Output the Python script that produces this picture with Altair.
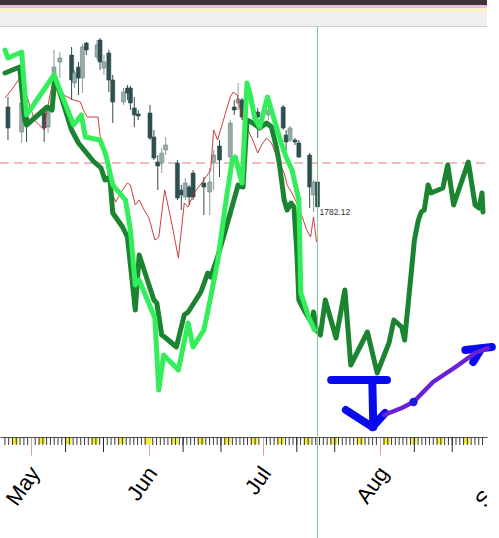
import altair as alt
import pandas as pd

# ---- x: days since 1 May, y: price ----
# candles
cd_day = [-6.2, -2.58, -1.29, 3.36, 4.39, 5.94, 7.49, 10.59, 11.37, 12.40, 13.44, 14.47, 17.31, 18.09, 19.12,
          20.41, 21.45, 24.29, 25.32, 26.10, 27.13, 28.17, 31.27, 32.30, 33.33, 34.37, 35.40, 38.50, 39.53, 40.57,
          41.60, 42.64, 45.48, 47.03, 48.06, 49.61, 52.45, 53.49, 54.52, 55.56, 59.69, 62.53, 66.41, 67.18, 68.22,
          69.51, 70.54, 73.39, 74.42, 75.45]
cd_open = [1882, 1857, 1872, 1876, 1862, 1914, 1927, 1934, 1906, 1922, 1911, 1946, 1932, 1949, 1921,
           1936, 1909, 1887, 1901, 1901, 1881, 1875, 1876, 1852, 1827, 1826, 1839, 1826, 1799, 1792,
           1802, 1816, 1806, 1797, 1827, 1843, 1832, 1882, 1886, 1889, 1877, 1874, 1882, 1854, 1849,
           1849, 1846, 1834, 1794, 1807]
cd_close = [1861, 1886, 1867, 1861, 1879, 1922, 1931, 1909, 1916, 1911, 1942, 1939, 1944, 1927, 1927,
            1909, 1887, 1897, 1896, 1886, 1874, 1873, 1851, 1831, 1823, 1836, 1844, 1791, 1794, 1806,
            1792, 1792, 1802, 1807, 1834, 1829, 1866, 1879, 1890, 1872, 1872, 1879, 1861, 1847, 1861,
            1847, 1832, 1802, 1807, 1782.12]
cd_high = [1892, 1894, 1877, 1882, 1884, 1939, 1937, 1942, 1919, 1927, 1945, 1947, 1949, 1951, 1934,
           1939, 1914, 1901, 1904, 1903, 1892, 1879, 1884, 1859, 1834, 1841, 1852, 1829, 1804, 1811,
           1804, 1819, 1812, 1821, 1839, 1849, 1869, 1889, 1906, 1891, 1881, 1883, 1884, 1859, 1863,
           1851, 1849, 1836, 1809, 1809]
cd_low = [1849, 1846, 1847, 1847, 1856, 1896, 1911, 1889, 1901, 1894, 1896, 1934, 1929, 1919, 1914,
          1897, 1866, 1884, 1889, 1879, 1862, 1869, 1849, 1829, 1799, 1816, 1834, 1789, 1779, 1789,
          1784, 1789, 1774, 1774, 1799, 1812, 1829, 1874, 1879, 1869, 1851, 1869, 1859, 1839, 1847,
          1844, 1831, 1781, 1777, 1780]

# thin red line
red_day = [-6.98, -4.91, -3.10, -1.29, 0.78, 3.36, 3.88, 5.94, 8.53, 11.11, 12.92, 13.70, 14.73, 17.57, 18.09,
           19.64, 20.93, 22.22, 24.03, 25.32, 26.10, 27.39, 28.42, 29.72, 31.01, 32.56, 33.59, 35.14, 36.95,
           38.76, 40.31, 41.34, 42.89, 45.48, 47.29, 48.06, 49.10, 49.87, 52.45, 53.23, 54.26, 55.56, 57.11,
           58.40, 59.69, 60.72, 62.02, 63.31, 65.37, 66.67, 67.44, 68.73, 70.54, 72.61, 73.64, 74.42, 75.19]
red_val = [1891, 1901, 1911, 1894, 1869, 1859, 1874, 1914, 1894, 1889, 1887, 1879, 1872, 1872, 1854,
           1829, 1799, 1787, 1799, 1806, 1804, 1784, 1789, 1779, 1771, 1749, 1752, 1799, 1767,
           1731, 1786, 1782, 1796, 1809, 1819, 1859, 1849, 1859, 1892, 1897, 1894, 1871, 1859,
           1849, 1836, 1844, 1851, 1846, 1826, 1816, 1804, 1796, 1782, 1759, 1752, 1772, 1747]

# bright green line
lg_day = [-6.98, -6.20, -2.58, -1.29, 5.94, 11.11, 13.18, 14.21, 18.09, 19.64, 21.45, 24.81, 26.10, 27.39,
          28.42, 32.56, 33.59, 34.88, 38.76, 41.34, 42.64, 45.48, 47.29, 49.10, 51.16, 52.97, 53.75, 55.56,
          56.85, 57.62, 58.91, 60.21, 62.27, 64.08, 65.89, 67.18, 68.73, 70.54, 71.06, 73.13, 74.68]
lg_val = [1939, 1931, 1937, 1874, 1914, 1864, 1874, 1852, 1849, 1834, 1804, 1789, 1759, 1704,
          1709, 1671, 1599, 1634, 1619, 1666, 1642, 1659, 1692, 1727, 1784, 1829, 1832, 1806,
          1906, 1896, 1871, 1862, 1892, 1869, 1846, 1832, 1819, 1789, 1696, 1672, 1659]

# dark green line
dg_day = [-6.98, -3.10, -1.81, -1.29, 4.13, 5.43, 6.20, 10.59, 12.40, 16.28, 18.35, 19.38, 20.67, 21.45,
          24.03, 25.32, 27.39, 28.42, 29.97, 32.30, 33.07, 34.37, 35.14, 38.24, 40.31, 41.34, 44.70, 46.51,
          47.29, 49.10, 50.65, 52.45, 54.52, 55.81, 56.85, 58.40, 60.21, 62.02, 63.31, 64.60, 65.37, 66.67,
          67.44, 68.48, 69.25, 70.03, 70.54, 72.35, 73.90, 74.42, 75.19, 76.23, 77.52, 80.36, 82.69, 84.24,
          88.63, 91.21, 94.32, 95.61, 97.67, 98.45, 100.26, 101.03, 102.07, 102.84, 103.62, 104.65, 105.43,
          108.53, 109.82, 111.37, 115.25, 117.05, 118.09, 118.86, 119.12]
dg_val = [1916, 1922, 1869, 1864, 1882, 1879, 1912, 1859, 1846, 1828, 1821, 1809, 1812, 1776,
          1762, 1752, 1679, 1734, 1716, 1689, 1686, 1654, 1652, 1642, 1674, 1677, 1697, 1716,
          1712, 1732, 1752, 1776, 1804, 1802, 1869, 1866, 1861, 1866, 1862, 1842, 1826, 1789,
          1779, 1786, 1782, 1736, 1689, 1676, 1666, 1677, 1659, 1654, 1689, 1651, 1699, 1624,
          1657, 1616, 1646, 1669, 1662, 1649, 1719, 1749, 1769, 1777, 1779, 1804, 1796,
          1801, 1824, 1784, 1827, 1784, 1781, 1796, 1777]

# hand-drawn annotation strokes (blue) and purple path
blue_seg = [0, 0, 1, 1, 2, 2, 3, 3, 4, 4, 5, 5]
blue_day = [79.07, 93.80, 89.92, 90.18, 82.95, 89.92, 89.92, 93.28, 114.47, 121.45, 116.54, 118.61]
blue_val = [1609, 1609, 1609, 1562, 1579, 1562, 1562, 1576, 1639, 1642, 1627, 1640]
purple_day = [93.02, 97.67, 100.78, 105.94, 111.89, 117.05, 120.41]
purple_val = [1574, 1581, 1587, 1607, 1622, 1636, 1641]
dot_day = [100.78]
dot_val = [1587]

ref_level = 1826          # dashed horizontal level
cursor_day = 75.45        # vertical cursor
last_price = 1782.12

month_days = [0, 31, 61, 92]
month_names = ["May", "Jun", "Jul", "Aug"]
next_month_day = 123
next_month_name = "Sep"

W, H = 487, 410
ANGLE = 305
LBL_SIZE = 22
LBL_PAD = 8
LBL_OFF = -5
LBL_FONT = "Liberation Sans"
xscale = alt.Scale(domain=[-6.98, 118.86], nice=False, zero=False)
yscale = alt.Scale(domain=[1552, 1962], nice=False, zero=False)

label_expr = " : ".join(
    [f"datum.value == {d} ? '{n}'" for d, n in zip(month_days, month_names)]) + " : ''"
xaxis = alt.Axis(values=month_days, labelExpr=label_expr, labelAngle=ANGLE, labelAlign="right",
                 labelBaseline="top", labelFontSize=LBL_SIZE, labelFont=LBL_FONT, labelColor="#000",
                 tickColor="#d9a0a0", tickSize=18, tickWidth=1, domainColor="#555", domainWidth=1,
                 labelPadding=LBL_PAD, labelOffset=LBL_OFF, title=None, grid=False, labelOverlap=False,
                 labelBound=False, labelFlush=False)


def X(field="d"):
    return alt.X(f"{field}:Q", scale=xscale, axis=xaxis)


def Y(field="p"):
    return alt.Y(f"{field}:Q", scale=yscale, axis=None)


dummy = pd.DataFrame({"k": [0]})

# header bands above the plot
bands = [(0, 5, "#3d3438"), (5, 8, "#e8bce4"), (8, 12, "#f8f4c4"), (12, 26, "#efefed"), (26, 27, "#cfcfcf")]
band_layers = [
    alt.Chart(dummy).mark_rect(color=c).encode(
        x=alt.value(0), x2=alt.value(W), y=alt.value(a - 27), y2=alt.value(b - 27))
    for a, b, c in bands
]

candles = pd.DataFrame({"d": cd_day, "open": cd_open, "close": cd_close, "high": cd_high, "low": cd_low})
candles["fill"] = ["#97abab" if c > o else "#2f4f4f" for o, c in zip(cd_open, cd_close)]
candles["wick"] = ["#8a9a9a" if c > o else "#2f4f4f" for o, c in zip(cd_open, cd_close)]
candles["edge"] = ["#6b8585" if c > o else "#2f4f4f" for o, c in zip(cd_open, cd_close)]

wicks = alt.Chart(candles).mark_rule(strokeWidth=1).encode(
    x=X(), y=Y("low"), y2="high:Q", color=alt.Color("wick:N", scale=None))
bodies = alt.Chart(candles).mark_bar(size=4, strokeWidth=0.6).encode(
    x=X(), y=Y("open"), y2="close:Q", fill=alt.Fill("fill:N", scale=None),
    stroke=alt.Stroke("edge:N", scale=None))


def line_df(days, vals):
    return pd.DataFrame({"d": days, "p": vals, "o": list(range(len(days)))})


red = alt.Chart(line_df(red_day, red_val)).mark_line(color="#c82828", strokeWidth=0.9).encode(
    x=X(), y=Y(), order="o:Q")
dgreen = alt.Chart(line_df(dg_day, dg_val)).mark_line(
    color="#1b8430", strokeWidth=5, strokeJoin="round", strokeCap="round").encode(x=X(), y=Y(), order="o:Q")
lgreen = alt.Chart(line_df(lg_day, lg_val)).mark_line(
    color="#33ee5a", strokeWidth=5, strokeJoin="round", strokeCap="round").encode(x=X(), y=Y(), order="o:Q")

hline = alt.Chart(pd.DataFrame({"p": [ref_level]})).mark_rule(
    color="#e07a7a", strokeDash=[9, 5], strokeWidth=1).encode(y=Y(), x=alt.value(0), x2=alt.value(W))
vline = alt.Chart(pd.DataFrame({"d": [cursor_day]})).mark_rule(color="#7fc796", strokeWidth=1).encode(
    x=X(), y=alt.value(-1), y2=alt.value(H + 101))

# day ticks along the time axis
dates = pd.date_range("2021-04-24", "2021-08-28")
tick_df = pd.DataFrame({"d": [(t - pd.Timestamp("2021-05-01")).days for t in dates],
                        "dom": [t.day for t in dates]})
minor = tick_df[(tick_df.dom != 1)]
major = tick_df[tick_df.dom.isin([10, 20])]
yellow = tick_df[((tick_df.d - 2) % 7) == 0].copy()
yellow["d0"] = yellow["d"] - 0.2
yellow["d2"] = yellow["d"] + 1.6

yel = alt.Chart(yellow).mark_rect(color="#f5f02a").encode(
    x=X("d0"), x2="d2:Q", y=alt.value(H + 1), y2=alt.value(H + 7))
minor_t = alt.Chart(minor).mark_rule(color="#3a3a3a", strokeWidth=1).encode(
    x=X(), y=alt.value(H), y2=alt.value(H + 8))
major_t = alt.Chart(major).mark_rule(color="#222", strokeWidth=1).encode(
    x=X(), y=alt.value(H), y2=alt.value(H + 15))

# next month label, cut at the chart's right edge as in the screenshot
next_lbl = alt.Chart(pd.DataFrame({"d": [next_month_day], "t": [next_month_name]})).mark_text(
    angle=ANGLE, align="right", baseline="top", fontSize=LBL_SIZE, font=LBL_FONT, color="#000",
    dx=LBL_OFF).encode(
    x=X(), y=alt.value(H + 18 + LBL_PAD), text="t:N")
edge_mask = alt.Chart(dummy).mark_rect(color="white").encode(
    x=alt.value(W), x2=alt.value(W + 12), y=alt.value(H + 30), y2=alt.value(H + 101))

blue = alt.Chart(pd.DataFrame({"d": blue_day, "p": blue_val, "s": blue_seg,
                               "o": list(range(len(blue_day)))})).mark_line(
    color="#0a0aee", strokeWidth=8, strokeCap="round", strokeJoin="round").encode(
    x=X(), y=Y(), detail="s:N", order="o:Q")
purple = alt.Chart(line_df(purple_day, purple_val)).mark_line(
    color="#6a1fd8", strokeWidth=4.5, strokeCap="round", strokeJoin="round").encode(x=X(), y=Y(), order="o:Q")
dot = alt.Chart(pd.DataFrame({"d": dot_day, "p": dot_val})).mark_circle(
    color="#1a1ae0", size=70, opacity=1).encode(x=X(), y=Y())

price_lbl = alt.Chart(pd.DataFrame({"d": [cursor_day], "p": [last_price], "t": [f"{last_price:.2f}"]})).mark_text(
    align="left", baseline="top", dx=2, dy=1, fontSize=8.5, font="Liberation Sans", color="#333").encode(
    x=X(), y=Y(), text="t:N")

chart = alt.layer(
    *band_layers, hline, wicks, bodies, red, dgreen, lgreen, vline, yel, minor_t, major_t, next_lbl, edge_mask,
    blue, purple, dot, price_lbl
).properties(
    width=W, height=H, autosize=alt.AutoSizeParams(type="none"),
    padding={"left": 0, "top": 27, "right": 12, "bottom": 101}, background="white"
).configure_view(stroke=None)

chart.save("out.html", embed_options={"renderer": "svg", "actions": False})
